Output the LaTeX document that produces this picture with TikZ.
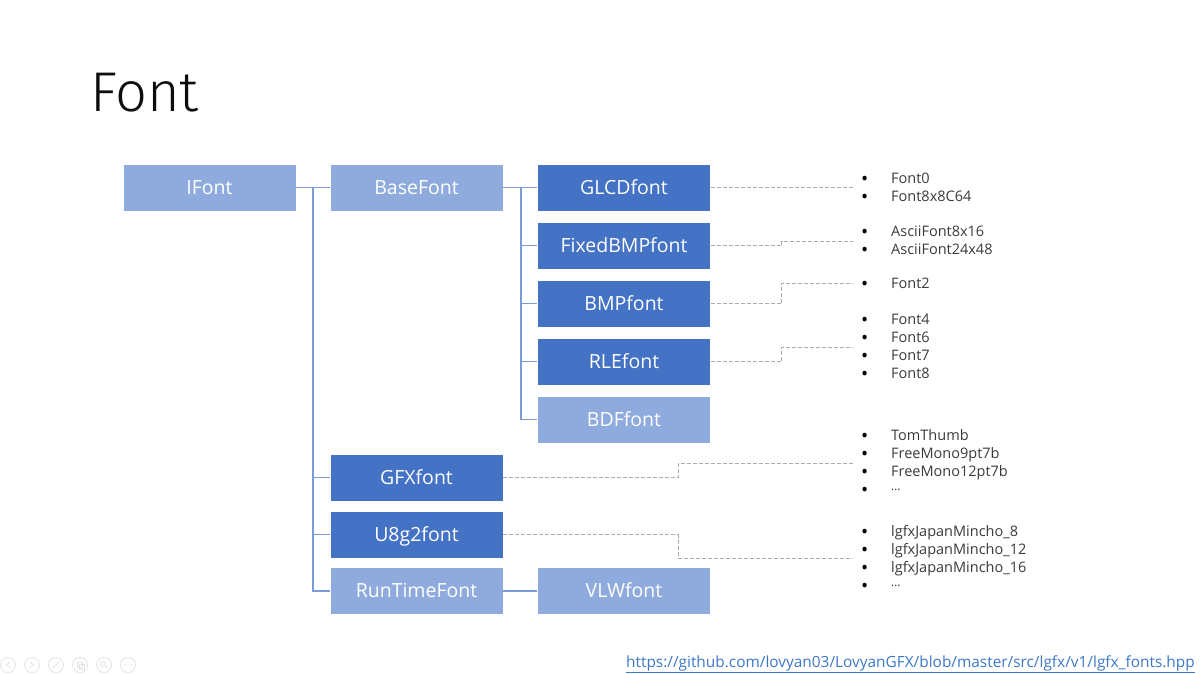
\documentclass[tikz,border=0pt]{standalone}
\usepackage{fontspec}
\setmainfont{Open Sans}
\newfontfamily\titlefont{Fira Sans}[UprightFont={* Light}]
\definecolor{cdark}{HTML}{4472C4}
\definecolor{clight}{HTML}{8FAADC}
\definecolor{cline}{HTML}{7B9CD8}
\definecolor{cdash}{HTML}{ABABAB}
\definecolor{ctext}{HTML}{3A3A3A}
\definecolor{curl}{HTML}{3C78C8}
\definecolor{cicon}{HTML}{E2E2E2}
\begin{document}
\begin{tikzpicture}[x=1pt,y=-1pt,
  box/.style={draw=white, line width=0.6pt, minimum width=173pt, minimum height=47pt,
    inner sep=0pt, text=white, text height=13pt, text depth=0pt,
    font=\fontsize{19.5}{20}\selectfont},
  darkbox/.style={box, fill=cdark},
  lightbox/.style={box, fill=clight},
  tree/.style={draw=cline, line width=1.1pt},
  gline/.style={draw=cdash, line width=0.8pt, dash pattern=on 4pt off 2pt},
  blist/.style={anchor=base west, inner sep=0pt, text=ctext,
    font=\fontsize{14.5}{18}\selectfont},
  icon/.style={draw=cicon, line width=0.8pt}
  ]
\path[use as bounding box] (0,0) rectangle (1200,674);

% title
\node[anchor=base west, inner sep=0pt, font=\titlefont\fontsize{56}{56}\selectfont, text=black!95] (title) at (90,112) {Font};

% boxes
\node[lightbox] (IFont)    at (209.5,187.5) {IFont};
\node[lightbox] (BaseFont) at (416.5,187.5) {BaseFont};
\node[darkbox]  (GLCD)     at (624,187.5) {GLCDfont};
\node[darkbox]  (FixedBMP) at (624,245.5) {FixedBMPfont};
\node[darkbox]  (BMP)      at (624,303.5) {BMPfont};
\node[darkbox]  (RLE)      at (624,361.5) {RLEfont};
\node[lightbox] (BDF)      at (624,419.5) {BDFfont};
\node[darkbox]  (GFX)      at (416.5,477.5) {GFXfont};
\node[darkbox]  (U8g2)     at (416.5,534.5) {U8g2font};
\node[lightbox] (RunTime)  at (416.5,591) {RunTimeFont};
\node[lightbox] (VLW)      at (624,591) {VLWfont};

% tree connectors
\coordinate (t1) at (313,187.5);
\coordinate (t2) at (521,187.5);
\draw[tree] (IFont.east) -- (BaseFont.west);
\draw[tree] (t1) |- (GFX.west);
\draw[tree] (t1) |- (U8g2.west);
\draw[tree] (t1) |- (RunTime.west);
\draw[tree] (BaseFont.east) -- (GLCD.west);
\draw[tree] (t2) |- (FixedBMP.west);
\draw[tree] (t2) |- (BMP.west);
\draw[tree] (t2) |- (RLE.west);
\draw[tree] (t2) |- (BDF.west);
\draw[tree] (RunTime.east) -- (VLW.west);

% bullet lists
\newcommand\bitem[1]{\makebox[30pt][l]{\raisebox{-2.6pt}{\color{black}\fontsize{19}{18}\selectfont •}}#1}
\newcommand\mdots{\raisebox{4pt}{\fontsize{12}{12}\selectfont …}}
\node[blist] (L1) at (861,183) {\begin{tabular}[t]{@{}l@{}}\bitem{Font0}\\ \bitem{Font8x8C64}\end{tabular}};
\node[blist] (L2) at (861,236) {\begin{tabular}[t]{@{}l@{}}\bitem{AsciiFont8x16}\\ \bitem{AsciiFont24x48}\end{tabular}};
\node[blist] (L3) at (861,288) {\begin{tabular}[t]{@{}l@{}}\bitem{Font2}\end{tabular}};
\node[blist] (L4) at (861,324) {\begin{tabular}[t]{@{}l@{}}\bitem{Font4}\\ \bitem{Font6}\\ \bitem{Font7}\\ \bitem{Font8}\end{tabular}};
\node[blist] (L5) at (861,440) {\begin{tabular}[t]{@{}l@{}}\bitem{TomThumb}\\ \bitem{FreeMono9pt7b}\\ \bitem{FreeMono12pt7b}\\ \bitem{\mdots}\end{tabular}};
\node[blist] (L6) at (861,536) {\begin{tabular}[t]{@{}l@{}}\bitem{lgfxJapanMincho\_8}\\ \bitem{lgfxJapanMincho\_12}\\ \bitem{lgfxJapanMincho\_16}\\ \bitem{\mdots}\end{tabular}};

% dashed connectors
\coordinate (d1) at (853,187.5);
\coordinate (d2) at (853,241);
\coordinate (d3) at (853,283);
\coordinate (d4) at (853,347);
\coordinate (d5) at (853,463);
\coordinate (d6) at (853,558);
\draw[gline] (GLCD.east) -- (d1);
\draw[gline] (FixedBMP.east) -- ++(71,0) |- (d2);
\draw[gline] (BMP.east) -- ++(71,0) |- (d3);
\draw[gline] (RLE.east) -- ++(71,0) |- (d4);
\draw[gline] (GFX.east) -- ++(175,0) |- (d5);
\draw[gline] (U8g2.east) -- ++(175,0) |- (d6);

% url
\node[anchor=base west, inner sep=0pt, text=curl, font=\fontsize{15.4}{15.4}\selectfont] (url) at (626,667)
  {\underline{https://github.com/lovyan03/LovyanGFX/blob/master/src/lgfx/v1/lgfx\_fonts.hpp}};

% faint slide controls
\foreach \cx in {8,32,56,80,104,128} { \draw[icon] (\cx,665) circle (7.5); }
\draw[icon] (10,662) -- (6.5,665) -- (10,668);
\draw[icon] (30,662) -- (33.5,665) -- (30,668);
\draw[icon] (52.5,668.5) -- (59.5,661.5);
\draw[icon] (77,662) rectangle (82,667); \draw[icon] (79,664) rectangle (84,669);
\draw[icon] (103,664) circle (2.5); \draw[icon] (105,666) -- (107,668);
\foreach \dx in {-3,0,3} { \fill[cicon] (128+\dx,665) circle (0.9); }
\end{tikzpicture}
\end{document}
